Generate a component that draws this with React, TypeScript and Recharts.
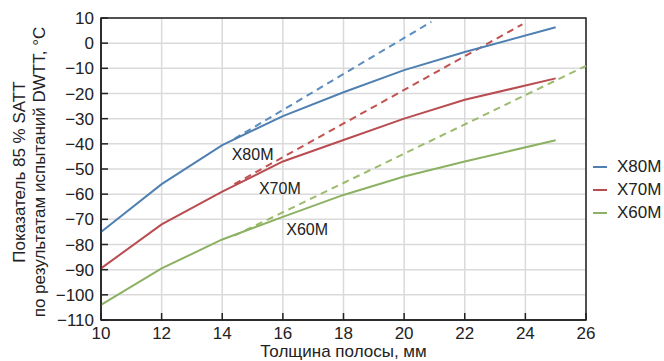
import {
  CartesianGrid,
  Legend,
  Line,
  LineChart,
  ReferenceArea,
  ReferenceDot,
  XAxis,
  YAxis,
} from "recharts";

// толщина полосы, мм
const thickness = [10, 12, 14, 16, 18, 20, 22, 25];
const x80m = [-75, -56, -40.5, -29, -19.5, -10.7, -3.5, 6.3];
const x70m = [-89.5, -72, -59, -47, -38.5, -30, -22.5, -14];
const x60m = [-104, -89.5, -78, -69, -60.3, -53, -47, -38.6];

// пунктирные продолжения
const x80mDashX = [14.4, 20.9];
const x80mDash = [-38, 8.5];
const x70mDashX = [14.4, 23.9];
const x70mDash = [-56, 7.5];
const x60mDashX = [14.4, 26];
const x60mDash = [-76.5, -9];

const xTicks = [10, 12, 14, 16, 18, 20, 22, 24, 26];
const yTicks = [-110, -100, -90, -80, -70, -60, -50, -40, -30, -20, -10, 0, 10];

const seriesNames = ["X80M", "X70M", "X60M"];
const colors = ["#4f80b2", "#b94c50", "#8cb162"];
const dashColors = ["#5a8cc0", "#c0524f", "#9cbb6c"];
// подписи у кривых: [x, y]
const curveLabelX = [15, 15.9, 16.8];
const curveLabelY = [-44, -57.5, -74];

const toRows = (xs: number[], ys: number[]) => xs.map((t, i) => ({ t, v: ys[i] }));

const solid = [toRows(thickness, x80m), toRows(thickness, x70m), toRows(thickness, x60m)];
const dashed = [toRows(x80mDashX, x80mDash), toRows(x70mDashX, x70mDash), toRows(x60mDashX, x60mDash)];

const font = "'Liberation Sans', Arial, sans-serif";
const fs = 17;
const minus = (v: number) => String(v).replace("-", "\u2212");

function YTitle({ viewBox }: any) {
  const cy = viewBox.y + viewBox.height / 2 + 3;
  const x = viewBox.x;
  return (
    <g fill="#222" fontSize={fs} fontFamily={font}>
      <text transform={`translate(${x + 25}, ${cy}) rotate(-90)`} textAnchor="middle">
        Показатель 85 % SATT
      </text>
      <text transform={`translate(${x + 45}, ${cy}) rotate(-90)`} textAnchor="middle">
        по результатам испытаний DWTT, °C
      </text>
    </g>
  );
}

function XTitle({ viewBox }: any) {
  return (
    <text
      x={viewBox.x + viewBox.width / 2}
      y={viewBox.y + 37}
      textAnchor="middle"
      fill="#222"
      fontSize={fs}
      fontFamily={font}
    >
      Толщина полосы, мм
    </text>
  );
}

function LegendBox() {
  return (
    <div style={{ fontFamily: font, fontSize: fs, color: "#222" }}>
      {seriesNames.map((name, i) => (
        <div key={name} style={{ display: "flex", alignItems: "center", height: 23 }}>
          <span style={{ width: 14, height: 2, background: colors[i], marginRight: 10 }} />
          <span>{name}</span>
        </div>
      ))}
    </div>
  );
}

export default function App() {
  return (
    <div style={{ position: "absolute", left: 0, top: 0 }}>
      <LineChart
        width={664}
        height={361}
        margin={{ top: 18, right: 78, bottom: 0, left: 0 }}
        style={{ fontFamily: font }}
      >
        <CartesianGrid stroke="#dadada" strokeWidth={1.5} />
        <XAxis
          dataKey="t"
          type="number"
          domain={[10, 26]}
          ticks={xTicks}
          interval={0}
          height={41}
          tickSize={-7}
          tickMargin={14}
          axisLine={{ stroke: "#222", strokeWidth: 1.5 }}
          tickLine={{ stroke: "#222", strokeWidth: 1.5 }}
          tick={{ fill: "#222", fontSize: fs }}
          label={{ content: XTitle }}
        />
        <YAxis
          type="number"
          domain={[-110, 10]}
          ticks={yTicks}
          interval={0}
          width={101}
          tickSize={-7}
          tickMargin={14}
          tickFormatter={minus}
          axisLine={{ stroke: "#222", strokeWidth: 1.5 }}
          tickLine={{ stroke: "#222", strokeWidth: 1.5 }}
          tick={{ fill: "#222", fontSize: fs }}
          label={{ content: YTitle }}
        />
        <ReferenceArea x1={10} x2={26} y1={-110} y2={10} fill="none" stroke="#222" strokeWidth={1.5} />
        {dashed.map((rows, i) => (
          <Line
            key={"d" + i}
            data={rows}
            dataKey="v"
            stroke={dashColors[i]}
            strokeWidth={2}
            strokeDasharray="7 5"
            dot={false}
            legendType="none"
            isAnimationActive={false}
          />
        ))}
        {solid.map((rows, i) => (
          <Line
            key={"s" + i}
            data={rows}
            dataKey="v"
            name={seriesNames[i]}
            stroke={colors[i]}
            strokeWidth={2}
            dot={false}
            isAnimationActive={false}
          />
        ))}
        {seriesNames.map((name, i) => (
          <ReferenceDot
            key={"l" + name}
            x={curveLabelX[i]}
            y={curveLabelY[i]}
            r={0}
            fill="none"
            stroke="none"
            label={{ value: name, position: "center", fill: "#222", fontSize: fs - 1 }}
          />
        ))}
        <Legend
          layout="vertical"
          align="center"
          verticalAlign="middle"
          content={<LegendBox />}
          wrapperStyle={{ left: 593, top: 155, width: "auto" }}
        />
      </LineChart>
    </div>
  );
}
